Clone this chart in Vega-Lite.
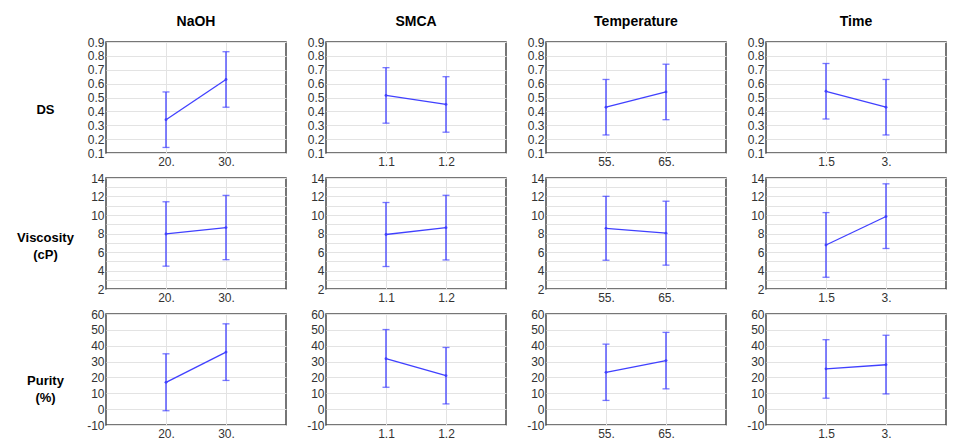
{
  "$schema": "https://vega.github.io/schema/vega-lite/v6.json",
  "description": "Main effect plots with error bars: DS, viscosity and purity against NaOH, SMCA, temperature and time.",
  "padding": {"left": 15, "top": 14, "right": 2, "bottom": 0},
  "datasets": {
    "effects": [
      {"response": "DS", "factor": "NaOH", "level": "20.", "mean": 0.34, "lo": 0.14, "hi": 0.54},
      {"response": "DS", "factor": "NaOH", "level": "30.", "mean": 0.63, "lo": 0.43, "hi": 0.83},
      {"response": "DS", "factor": "SMCA", "level": "1.1", "mean": 0.515, "lo": 0.315, "hi": 0.715},
      {"response": "DS", "factor": "SMCA", "level": "1.2", "mean": 0.45, "lo": 0.25, "hi": 0.65},
      {"response": "DS", "factor": "Temperature", "level": "55.", "mean": 0.43, "lo": 0.23, "hi": 0.63},
      {"response": "DS", "factor": "Temperature", "level": "65.", "mean": 0.54, "lo": 0.34, "hi": 0.74},
      {"response": "DS", "factor": "Time", "level": "1.5", "mean": 0.545, "lo": 0.345, "hi": 0.745},
      {"response": "DS", "factor": "Time", "level": "3.", "mean": 0.43, "lo": 0.23, "hi": 0.63},
      {"response": "Viscosity", "factor": "NaOH", "level": "20.", "mean": 7.95, "lo": 4.47, "hi": 11.43},
      {"response": "Viscosity", "factor": "NaOH", "level": "30.", "mean": 8.64, "lo": 5.17, "hi": 12.12},
      {"response": "Viscosity", "factor": "SMCA", "level": "1.1", "mean": 7.89, "lo": 4.43, "hi": 11.35},
      {"response": "Viscosity", "factor": "SMCA", "level": "1.2", "mean": 8.63, "lo": 5.14, "hi": 12.13},
      {"response": "Viscosity", "factor": "Temperature", "level": "55.", "mean": 8.56, "lo": 5.11, "hi": 12.02},
      {"response": "Viscosity", "factor": "Temperature", "level": "65.", "mean": 8.04, "lo": 4.58, "hi": 11.49},
      {"response": "Viscosity", "factor": "Time", "level": "1.5", "mean": 6.76, "lo": 3.27, "hi": 10.26},
      {"response": "Viscosity", "factor": "Time", "level": "3.", "mean": 9.84, "lo": 6.38, "hi": 13.37},
      {"response": "Purity", "factor": "NaOH", "level": "20.", "mean": 16.9, "lo": -1.0, "hi": 34.9},
      {"response": "Purity", "factor": "NaOH", "level": "30.", "mean": 36.0, "lo": 18.1, "hi": 53.8},
      {"response": "Purity", "factor": "SMCA", "level": "1.1", "mean": 31.8, "lo": 13.8, "hi": 50.2},
      {"response": "Purity", "factor": "SMCA", "level": "1.2", "mean": 21.1, "lo": 3.3, "hi": 38.9},
      {"response": "Purity", "factor": "Temperature", "level": "55.", "mean": 23.2, "lo": 5.5, "hi": 41.0},
      {"response": "Purity", "factor": "Temperature", "level": "65.", "mean": 30.6, "lo": 12.8, "hi": 48.4},
      {"response": "Purity", "factor": "Time", "level": "1.5", "mean": 25.4, "lo": 6.9, "hi": 43.8},
      {"response": "Purity", "factor": "Time", "level": "3.", "mean": 28.0, "lo": 9.6, "hi": 46.6}
    ]
  },
  "data": {"name": "effects"},
  "columns": 4,
  "bounds": "flush",
  "spacing": {"row": 25, "column": 40},
  "concat": [
    {
      "width": 180, "height": 111,
      "title": "NaOH",
      "transform": [{"filter": "datum.response === 'DS' && datum.factor === 'NaOH'"}],
      "encoding": {"x": {"field": "level", "type": "ordinal", "scale": {"type": "point", "padding": 1}, "axis": {"title": null}}},
      "layer": [
        {"mark": {"type": "errorbar", "ticks": {"size": 7}, "thickness": 1.3, "color": "#4040ff"},
         "encoding": {"y": {"field": "lo", "type": "quantitative", "scale": {"domain": [0.1, 0.9], "nice": false, "zero": false}, "axis": {"values": [0.1, 0.2, 0.3, 0.4, 0.5, 0.6, 0.7, 0.8, 0.9], "format": ".1f", "title": "DS", "titleAngle": 0, "titleAlign": "center", "titleBaseline": "middle", "titleX": -61, "titleY": 67}}, "y2": {"field": "hi"}}},
        {"mark": {"type": "line", "color": "#4040ff", "strokeWidth": 1.3, "point": {"filled": true, "size": 8, "color": "#4040ff"}},
         "encoding": {"y": {"field": "mean", "type": "quantitative", "scale": {"domain": [0.1, 0.9], "nice": false, "zero": false}, "axis": {"values": [0.1, 0.2, 0.3, 0.4, 0.5, 0.6, 0.7, 0.8, 0.9], "format": ".1f", "title": "DS", "titleAngle": 0, "titleAlign": "center", "titleBaseline": "middle", "titleX": -61, "titleY": 67}}}}
      ]
    },
    {
      "width": 180, "height": 111,
      "title": "SMCA",
      "transform": [{"filter": "datum.response === 'DS' && datum.factor === 'SMCA'"}],
      "encoding": {"x": {"field": "level", "type": "ordinal", "scale": {"type": "point", "padding": 1}, "axis": {"title": null}}},
      "layer": [
        {"mark": {"type": "errorbar", "ticks": {"size": 7}, "thickness": 1.3, "color": "#4040ff"},
         "encoding": {"y": {"field": "lo", "type": "quantitative", "scale": {"domain": [0.1, 0.9], "nice": false, "zero": false}, "axis": {"values": [0.1, 0.2, 0.3, 0.4, 0.5, 0.6, 0.7, 0.8, 0.9], "format": ".1f", "title": null}}, "y2": {"field": "hi"}}},
        {"mark": {"type": "line", "color": "#4040ff", "strokeWidth": 1.3, "point": {"filled": true, "size": 8, "color": "#4040ff"}},
         "encoding": {"y": {"field": "mean", "type": "quantitative", "scale": {"domain": [0.1, 0.9], "nice": false, "zero": false}, "axis": {"values": [0.1, 0.2, 0.3, 0.4, 0.5, 0.6, 0.7, 0.8, 0.9], "format": ".1f", "title": null}}}}
      ]
    },
    {
      "width": 180, "height": 111,
      "title": "Temperature",
      "transform": [{"filter": "datum.response === 'DS' && datum.factor === 'Temperature'"}],
      "encoding": {"x": {"field": "level", "type": "ordinal", "scale": {"type": "point", "padding": 1}, "axis": {"title": null}}},
      "layer": [
        {"mark": {"type": "errorbar", "ticks": {"size": 7}, "thickness": 1.3, "color": "#4040ff"},
         "encoding": {"y": {"field": "lo", "type": "quantitative", "scale": {"domain": [0.1, 0.9], "nice": false, "zero": false}, "axis": {"values": [0.1, 0.2, 0.3, 0.4, 0.5, 0.6, 0.7, 0.8, 0.9], "format": ".1f", "title": null}}, "y2": {"field": "hi"}}},
        {"mark": {"type": "line", "color": "#4040ff", "strokeWidth": 1.3, "point": {"filled": true, "size": 8, "color": "#4040ff"}},
         "encoding": {"y": {"field": "mean", "type": "quantitative", "scale": {"domain": [0.1, 0.9], "nice": false, "zero": false}, "axis": {"values": [0.1, 0.2, 0.3, 0.4, 0.5, 0.6, 0.7, 0.8, 0.9], "format": ".1f", "title": null}}}}
      ]
    },
    {
      "width": 180, "height": 111,
      "title": "Time",
      "transform": [{"filter": "datum.response === 'DS' && datum.factor === 'Time'"}],
      "encoding": {"x": {"field": "level", "type": "ordinal", "scale": {"type": "point", "padding": 1}, "axis": {"title": null}}},
      "layer": [
        {"mark": {"type": "errorbar", "ticks": {"size": 7}, "thickness": 1.3, "color": "#4040ff"},
         "encoding": {"y": {"field": "lo", "type": "quantitative", "scale": {"domain": [0.1, 0.9], "nice": false, "zero": false}, "axis": {"values": [0.1, 0.2, 0.3, 0.4, 0.5, 0.6, 0.7, 0.8, 0.9], "format": ".1f", "title": null}}, "y2": {"field": "hi"}}},
        {"mark": {"type": "line", "color": "#4040ff", "strokeWidth": 1.3, "point": {"filled": true, "size": 8, "color": "#4040ff"}},
         "encoding": {"y": {"field": "mean", "type": "quantitative", "scale": {"domain": [0.1, 0.9], "nice": false, "zero": false}, "axis": {"values": [0.1, 0.2, 0.3, 0.4, 0.5, 0.6, 0.7, 0.8, 0.9], "format": ".1f", "title": null}}}}
      ]
    },
    {
      "width": 180, "height": 111,
      "transform": [{"filter": "datum.response === 'Viscosity' && datum.factor === 'NaOH'"}],
      "encoding": {"x": {"field": "level", "type": "ordinal", "scale": {"type": "point", "padding": 1}, "axis": {"title": null}}},
      "layer": [
        {"mark": {"type": "errorbar", "ticks": {"size": 7}, "thickness": 1.3, "color": "#4040ff"},
         "encoding": {"y": {"field": "lo", "type": "quantitative", "scale": {"domain": [2, 14], "nice": false, "zero": false}, "axis": {"values": [2, 3, 4, 5, 6, 7, 8, 9, 10, 11, 12, 13, 14], "labelExpr": "datum.value % 2 === 0 ? datum.label : ''", "title": ["Viscosity", "(cP)"], "titleAngle": 0, "titleAlign": "center", "titleBaseline": "middle", "titleX": -61, "titleY": 59}}, "y2": {"field": "hi"}}},
        {"mark": {"type": "line", "color": "#4040ff", "strokeWidth": 1.3, "point": {"filled": true, "size": 8, "color": "#4040ff"}},
         "encoding": {"y": {"field": "mean", "type": "quantitative", "scale": {"domain": [2, 14], "nice": false, "zero": false}, "axis": {"values": [2, 3, 4, 5, 6, 7, 8, 9, 10, 11, 12, 13, 14], "labelExpr": "datum.value % 2 === 0 ? datum.label : ''", "title": ["Viscosity", "(cP)"], "titleAngle": 0, "titleAlign": "center", "titleBaseline": "middle", "titleX": -61, "titleY": 59}}}}
      ]
    },
    {
      "width": 180, "height": 111,
      "transform": [{"filter": "datum.response === 'Viscosity' && datum.factor === 'SMCA'"}],
      "encoding": {"x": {"field": "level", "type": "ordinal", "scale": {"type": "point", "padding": 1}, "axis": {"title": null}}},
      "layer": [
        {"mark": {"type": "errorbar", "ticks": {"size": 7}, "thickness": 1.3, "color": "#4040ff"},
         "encoding": {"y": {"field": "lo", "type": "quantitative", "scale": {"domain": [2, 14], "nice": false, "zero": false}, "axis": {"values": [2, 3, 4, 5, 6, 7, 8, 9, 10, 11, 12, 13, 14], "labelExpr": "datum.value % 2 === 0 ? datum.label : ''", "title": null}}, "y2": {"field": "hi"}}},
        {"mark": {"type": "line", "color": "#4040ff", "strokeWidth": 1.3, "point": {"filled": true, "size": 8, "color": "#4040ff"}},
         "encoding": {"y": {"field": "mean", "type": "quantitative", "scale": {"domain": [2, 14], "nice": false, "zero": false}, "axis": {"values": [2, 3, 4, 5, 6, 7, 8, 9, 10, 11, 12, 13, 14], "labelExpr": "datum.value % 2 === 0 ? datum.label : ''", "title": null}}}}
      ]
    },
    {
      "width": 180, "height": 111,
      "transform": [{"filter": "datum.response === 'Viscosity' && datum.factor === 'Temperature'"}],
      "encoding": {"x": {"field": "level", "type": "ordinal", "scale": {"type": "point", "padding": 1}, "axis": {"title": null}}},
      "layer": [
        {"mark": {"type": "errorbar", "ticks": {"size": 7}, "thickness": 1.3, "color": "#4040ff"},
         "encoding": {"y": {"field": "lo", "type": "quantitative", "scale": {"domain": [2, 14], "nice": false, "zero": false}, "axis": {"values": [2, 3, 4, 5, 6, 7, 8, 9, 10, 11, 12, 13, 14], "labelExpr": "datum.value % 2 === 0 ? datum.label : ''", "title": null}}, "y2": {"field": "hi"}}},
        {"mark": {"type": "line", "color": "#4040ff", "strokeWidth": 1.3, "point": {"filled": true, "size": 8, "color": "#4040ff"}},
         "encoding": {"y": {"field": "mean", "type": "quantitative", "scale": {"domain": [2, 14], "nice": false, "zero": false}, "axis": {"values": [2, 3, 4, 5, 6, 7, 8, 9, 10, 11, 12, 13, 14], "labelExpr": "datum.value % 2 === 0 ? datum.label : ''", "title": null}}}}
      ]
    },
    {
      "width": 180, "height": 111,
      "transform": [{"filter": "datum.response === 'Viscosity' && datum.factor === 'Time'"}],
      "encoding": {"x": {"field": "level", "type": "ordinal", "scale": {"type": "point", "padding": 1}, "axis": {"title": null}}},
      "layer": [
        {"mark": {"type": "errorbar", "ticks": {"size": 7}, "thickness": 1.3, "color": "#4040ff"},
         "encoding": {"y": {"field": "lo", "type": "quantitative", "scale": {"domain": [2, 14], "nice": false, "zero": false}, "axis": {"values": [2, 3, 4, 5, 6, 7, 8, 9, 10, 11, 12, 13, 14], "labelExpr": "datum.value % 2 === 0 ? datum.label : ''", "title": null}}, "y2": {"field": "hi"}}},
        {"mark": {"type": "line", "color": "#4040ff", "strokeWidth": 1.3, "point": {"filled": true, "size": 8, "color": "#4040ff"}},
         "encoding": {"y": {"field": "mean", "type": "quantitative", "scale": {"domain": [2, 14], "nice": false, "zero": false}, "axis": {"values": [2, 3, 4, 5, 6, 7, 8, 9, 10, 11, 12, 13, 14], "labelExpr": "datum.value % 2 === 0 ? datum.label : ''", "title": null}}}}
      ]
    },
    {
      "width": 180, "height": 111,
      "transform": [{"filter": "datum.response === 'Purity' && datum.factor === 'NaOH'"}],
      "encoding": {"x": {"field": "level", "type": "ordinal", "scale": {"type": "point", "padding": 1}, "axis": {"title": null}}},
      "layer": [
        {"mark": {"type": "errorbar", "ticks": {"size": 7}, "thickness": 1.3, "color": "#4040ff"},
         "encoding": {"y": {"field": "lo", "type": "quantitative", "scale": {"domain": [-10, 60], "nice": false, "zero": false}, "axis": {"values": [-10, 0, 10, 20, 30, 40, 50, 60], "labelExpr": "'' + datum.value", "title": ["Purity", "(%)"], "titleAngle": 0, "titleAlign": "center", "titleBaseline": "middle", "titleX": -61, "titleY": 66}}, "y2": {"field": "hi"}}},
        {"mark": {"type": "line", "color": "#4040ff", "strokeWidth": 1.3, "point": {"filled": true, "size": 8, "color": "#4040ff"}},
         "encoding": {"y": {"field": "mean", "type": "quantitative", "scale": {"domain": [-10, 60], "nice": false, "zero": false}, "axis": {"values": [-10, 0, 10, 20, 30, 40, 50, 60], "labelExpr": "'' + datum.value", "title": ["Purity", "(%)"], "titleAngle": 0, "titleAlign": "center", "titleBaseline": "middle", "titleX": -61, "titleY": 66}}}}
      ]
    },
    {
      "width": 180, "height": 111,
      "transform": [{"filter": "datum.response === 'Purity' && datum.factor === 'SMCA'"}],
      "encoding": {"x": {"field": "level", "type": "ordinal", "scale": {"type": "point", "padding": 1}, "axis": {"title": null}}},
      "layer": [
        {"mark": {"type": "errorbar", "ticks": {"size": 7}, "thickness": 1.3, "color": "#4040ff"},
         "encoding": {"y": {"field": "lo", "type": "quantitative", "scale": {"domain": [-10, 60], "nice": false, "zero": false}, "axis": {"values": [-10, 0, 10, 20, 30, 40, 50, 60], "labelExpr": "'' + datum.value", "title": null}}, "y2": {"field": "hi"}}},
        {"mark": {"type": "line", "color": "#4040ff", "strokeWidth": 1.3, "point": {"filled": true, "size": 8, "color": "#4040ff"}},
         "encoding": {"y": {"field": "mean", "type": "quantitative", "scale": {"domain": [-10, 60], "nice": false, "zero": false}, "axis": {"values": [-10, 0, 10, 20, 30, 40, 50, 60], "labelExpr": "'' + datum.value", "title": null}}}}
      ]
    },
    {
      "width": 180, "height": 111,
      "transform": [{"filter": "datum.response === 'Purity' && datum.factor === 'Temperature'"}],
      "encoding": {"x": {"field": "level", "type": "ordinal", "scale": {"type": "point", "padding": 1}, "axis": {"title": null}}},
      "layer": [
        {"mark": {"type": "errorbar", "ticks": {"size": 7}, "thickness": 1.3, "color": "#4040ff"},
         "encoding": {"y": {"field": "lo", "type": "quantitative", "scale": {"domain": [-10, 60], "nice": false, "zero": false}, "axis": {"values": [-10, 0, 10, 20, 30, 40, 50, 60], "labelExpr": "'' + datum.value", "title": null}}, "y2": {"field": "hi"}}},
        {"mark": {"type": "line", "color": "#4040ff", "strokeWidth": 1.3, "point": {"filled": true, "size": 8, "color": "#4040ff"}},
         "encoding": {"y": {"field": "mean", "type": "quantitative", "scale": {"domain": [-10, 60], "nice": false, "zero": false}, "axis": {"values": [-10, 0, 10, 20, 30, 40, 50, 60], "labelExpr": "'' + datum.value", "title": null}}}}
      ]
    },
    {
      "width": 180, "height": 111,
      "transform": [{"filter": "datum.response === 'Purity' && datum.factor === 'Time'"}],
      "encoding": {"x": {"field": "level", "type": "ordinal", "scale": {"type": "point", "padding": 1}, "axis": {"title": null}}},
      "layer": [
        {"mark": {"type": "errorbar", "ticks": {"size": 7}, "thickness": 1.3, "color": "#4040ff"},
         "encoding": {"y": {"field": "lo", "type": "quantitative", "scale": {"domain": [-10, 60], "nice": false, "zero": false}, "axis": {"values": [-10, 0, 10, 20, 30, 40, 50, 60], "labelExpr": "'' + datum.value", "title": null}}, "y2": {"field": "hi"}}},
        {"mark": {"type": "line", "color": "#4040ff", "strokeWidth": 1.3, "point": {"filled": true, "size": 8, "color": "#4040ff"}},
         "encoding": {"y": {"field": "mean", "type": "quantitative", "scale": {"domain": [-10, 60], "nice": false, "zero": false}, "axis": {"values": [-10, 0, 10, 20, 30, 40, 50, 60], "labelExpr": "'' + datum.value", "title": null}}}}
      ]
    }
  ],
  "config": {
    "font": "Liberation Sans",
    "view": {"stroke": "#4a4a4a", "strokeWidth": 1.5},
    "axis": {
      "labelFont": "Liberation Sans",
      "labelFontSize": 12,
      "labelColor": "#333333",
      "domain": false,
      "ticks": false,
      "grid": true,
      "gridColor": "#e3e3e3",
      "labelPadding": 2,
      "titleFont": "Liberation Sans",
      "titleFontSize": 13,
      "titleFontWeight": "bold",
      "titleColor": "#000000",
      "titleLineHeight": 17
    },
    "axisX": {"labelAngle": 0, "labelPadding": 3},
    "title": {"font": "Liberation Sans", "fontSize": 14, "fontWeight": "bold", "color": "#000000", "anchor": "middle", "offset": 7}
  }
}
